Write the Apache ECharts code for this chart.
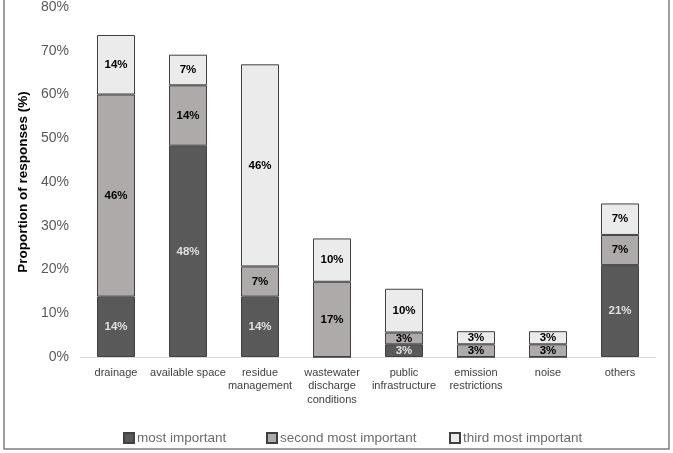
<!DOCTYPE html>
<html><head><meta charset="utf-8">
<script src="https://cdn.jsdelivr.net/npm/echarts@6/dist/echarts.min.js"></script>
<style>html,body{margin:0;padding:0;background:#fff}#c{width:673px;height:453px}</style>
</head><body><div id="c"></div>
<script>
const categories = ['drainage','available space','residue\nmanagement','wastewater\ndischarge\nconditions','public\ninfrastructure','emission\nrestrictions','noise','others'];
const mostImportant   = [13.8, 48.3, 13.8, 0,    2.9, 0,   0,   21];
const secondImportant = [46.2, 13.8, 6.9,  17.2, 2.7, 2.9, 2.9, 6.9];
const thirdImportant  = [13.6, 7.0,  46.2, 9.9,  10.0, 3.0, 3.0, 7.2];
const seriesNames = ['most important','second most important','third most important'];
const yTicks = [0,10,20,30,40,50,60,70,80];

const chart = echarts.init(document.getElementById('c'));
const sans = "'Liberation Sans',Arial,sans-serif";
function mk(name, data, color, labelColor){
  return {
    name, type:'bar', stack:'s', data, barWidth:38,
    itemStyle:{color, borderColor:'#404040', borderWidth:1},
    label:{show:true, position:'inside', color:labelColor, fontFamily:sans, fontWeight:'bold', fontSize:11.5,
      formatter:p=> p.value>0 ? Math.round(p.value)+'%' : ''}
  };
}
const legendPos = [118, 261, 444];
const legends = seriesNames.map((n,i)=>({
  data:[n], left:legendPos[i], top:426, itemWidth:10, itemHeight:10, icon:'rect', itemGap:0,
  textStyle:{color:'#6b6b6b',fontSize:13.5,fontFamily:sans, padding:[0,0,0,-2]}
}));
chart.setOption({
  animation:false,
  grid:{left:80,right:17,top:5,bottom:96},
  graphic:[{type:'rect',shape:{x:4,y:-10,width:665,height:459},style:{fill:'none',stroke:'#7f7f7f',lineWidth:1.5},silent:true}],
  legend:legends,
  xAxis:{type:'category',data:categories,
    axisLine:{lineStyle:{color:'#d9d9d9',width:1}},axisTick:{show:false},
    axisLabel:{color:'#404040',fontSize:11,fontFamily:sans,margin:9,lineHeight:13.5,interval:0}},
  yAxis:{type:'value',min:0,max:80,interval:10,
    name:'Proportion of responses (%)',nameLocation:'middle',nameGap:50,
    nameTextStyle:{color:'#000',fontWeight:'bold',fontSize:13.5,fontFamily:sans},
    axisLine:{show:false},axisTick:{show:false},splitLine:{show:false},
    axisLabel:{color:'#595959',fontSize:14,fontFamily:sans,margin:11,
      formatter:v=> yTicks.includes(v)? v+'%':''}},
  series:[
    mk(seriesNames[0], mostImportant, '#595959', '#e0e0e0'),
    mk(seriesNames[1], secondImportant, '#aeaaaa', '#000'),
    mk(seriesNames[2], thirdImportant, '#ebebeb', '#000')
  ]
});
</script></body></html>
